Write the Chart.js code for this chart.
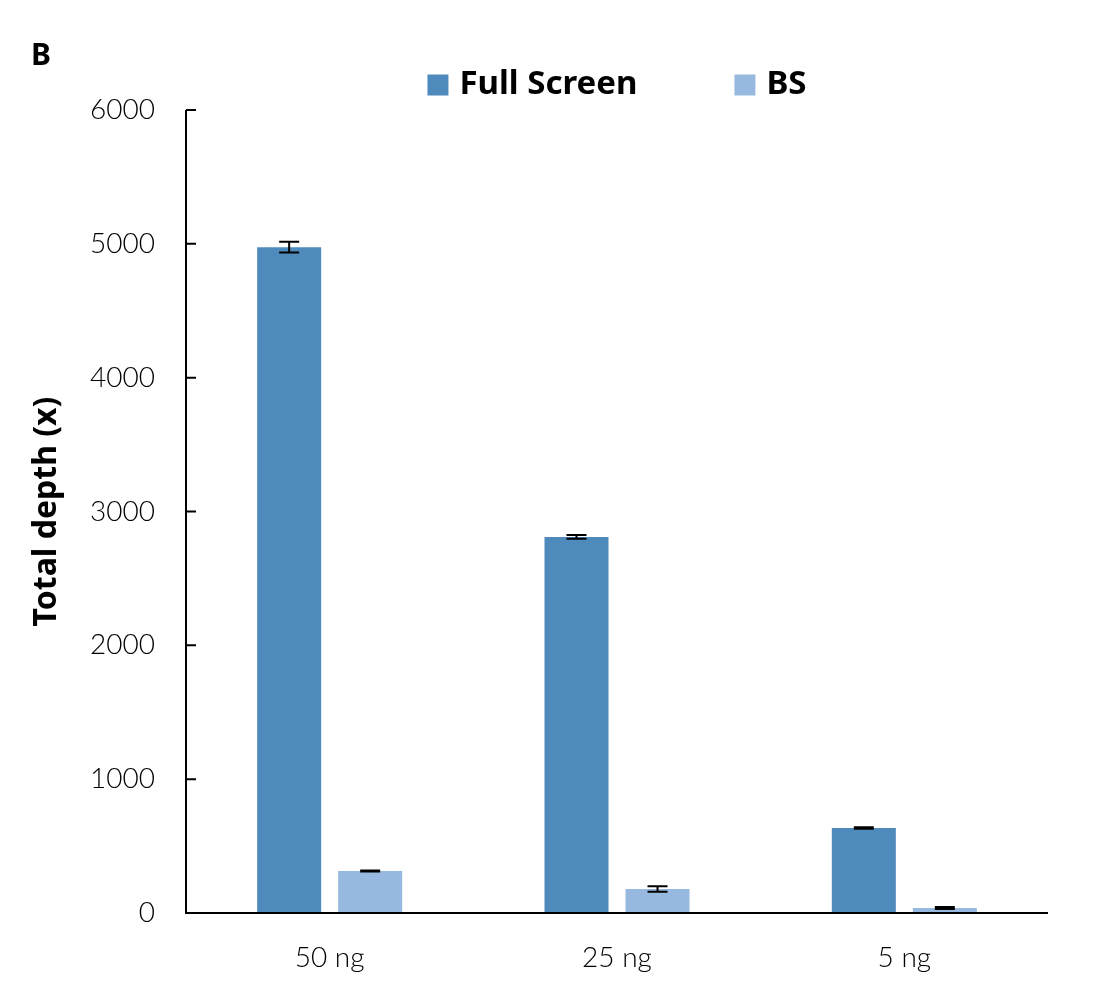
<!DOCTYPE html>
<html>
<head>
<meta charset="utf-8">
<script src="https://cdn.jsdelivr.net/npm/chart.js@4"></script>
<style>
  html, body { margin: 0; padding: 0; background: #fff; }
  #wrap { position: relative; width: 1099px; height: 1005px; }
</style>
</head>
<body>
<div id="wrap"><canvas id="chart" width="1099" height="1005"></canvas></div>
<script>
// Data
const categories = ['50 ng', '25 ng', '5 ng'];
const fullScreen = [4975, 2810, 635];
const fullScreenErr = [40, 14, 5];
const bs = [314, 179, 37];
const bsErr = [4, 20, 8];
const yTicks = [0, 1000, 2000, 3000, 4000, 5000, 6000];

const FONT = 'Lato, "Noto Sans", sans-serif';
const BOLD_FONT = '"Noto Sans", Lato, sans-serif';
const DARK = '#4f8abd';
const LIGHT = '#98b9df';

// Error bars drawn from the dataset values through the y scale
const errorBars = {
  id: 'errorBars',
  afterDatasetsDraw(chart) {
    const ctx = chart.ctx;
    const y = chart.scales.y;
    const errs = [fullScreenErr, bsErr];
    ctx.save();
    ctx.strokeStyle = '#000';
    ctx.lineWidth = 2;
    chart.data.datasets.forEach((ds, di) => {
      chart.getDatasetMeta(di).data.forEach((bar, i) => {
        const v = ds.data[i];
        const e = errs[di][i];
        const top = y.getPixelForValue(v + e);
        const bot = y.getPixelForValue(v - e);
        const x = bar.x;
        ctx.beginPath();
        ctx.moveTo(x, top); ctx.lineTo(x, bot);
        ctx.moveTo(x - 10, top); ctx.lineTo(x + 10, top);
        ctx.moveTo(x - 10, bot); ctx.lineTo(x + 10, bot);
        ctx.stroke();
      });
    });
    ctx.restore();
  }
};

// Axis lines, inward ticks, legend and panel letter
const decorations = {
  id: 'decorations',
  afterDraw(chart) {
    const ctx = chart.ctx;
    const { left, right, top, bottom } = chart.chartArea;
    const y = chart.scales.y;
    ctx.save();
    ctx.strokeStyle = '#000';
    ctx.lineWidth = 2;
    ctx.beginPath();
    ctx.moveTo(left, top); ctx.lineTo(left, bottom); ctx.lineTo(right, bottom);
    yTicks.forEach(t => {
      const py = y.getPixelForValue(t);
      ctx.moveTo(left, py); ctx.lineTo(left + 10, py);
    });
    ctx.stroke();

    // legend
    ctx.font = 'bold 33px ' + BOLD_FONT;
    ctx.textBaseline = 'middle';
    const items = chart.data.datasets.map(d => ({ label: d.label, color: d.backgroundColor }));
    const box = 21, gap = 11, itemGap = 97;
    let total = 0;
    items.forEach((it, i) => {
      it.w = ctx.measureText(it.label).width;
      total += box + gap + it.w + (i ? itemGap : 0);
    });
    let x = (left + right) / 2 - total / 2;
    const ly = 85;
    items.forEach((it, i) => {
      if (i) x += itemGap;
      ctx.fillStyle = it.color;
      ctx.fillRect(x, ly - box / 2, box, box);
      x += box + gap;
      ctx.fillStyle = '#000';
      ctx.fillText(it.label, x, ly);
      x += it.w;
    });

    ctx.font = 'bold 30px ' + BOLD_FONT;
    ctx.fillText('B', 31, 56);
    ctx.restore();
  }
};

new Chart(document.getElementById('chart'), {
  type: 'bar',
  data: {
    labels: categories,
    datasets: [
      { label: 'Full Screen', data: fullScreen, backgroundColor: DARK },
      { label: 'BS', data: bs, backgroundColor: LIGHT }
    ]
  },
  options: {
    responsive: false,
    animation: false,
    layout: { padding: { top: 110, right: 51, bottom: 0, left: 0 } },
    datasets: { bar: { categoryPercentage: 0.564, barPercentage: 0.79 } },
    plugins: { legend: { display: false }, tooltip: { enabled: false } },
    scales: {
      x: {
        grid: { display: false, drawTicks: false },
        border: { display: false },
        ticks: { color: '#000', padding: 28, font: { family: FONT, size: 28, weight: '300' } },
        afterFit: s => { s.height = 92; }
      },
      y: {
        min: 0, max: 6000,
        afterBuildTicks: s => { s.ticks = yTicks.map(v => ({ value: v })); },
        grid: { display: false, drawTicks: false },
        border: { display: false },
        ticks: {
          color: '#000', padding: 31, font: { family: FONT, size: 28, weight: '300' },
          callback: v => String(v)
        },
        title: {
          display: true, text: 'Total depth (x)', color: '#000',
          padding: { top: 28 },
          font: { family: BOLD_FONT, size: 32, weight: 'bold' }
        },
        afterFit: s => { s.width = 186; }
      }
    }
  },
  plugins: [errorBars, decorations]
});
</script>
</body>
</html>
